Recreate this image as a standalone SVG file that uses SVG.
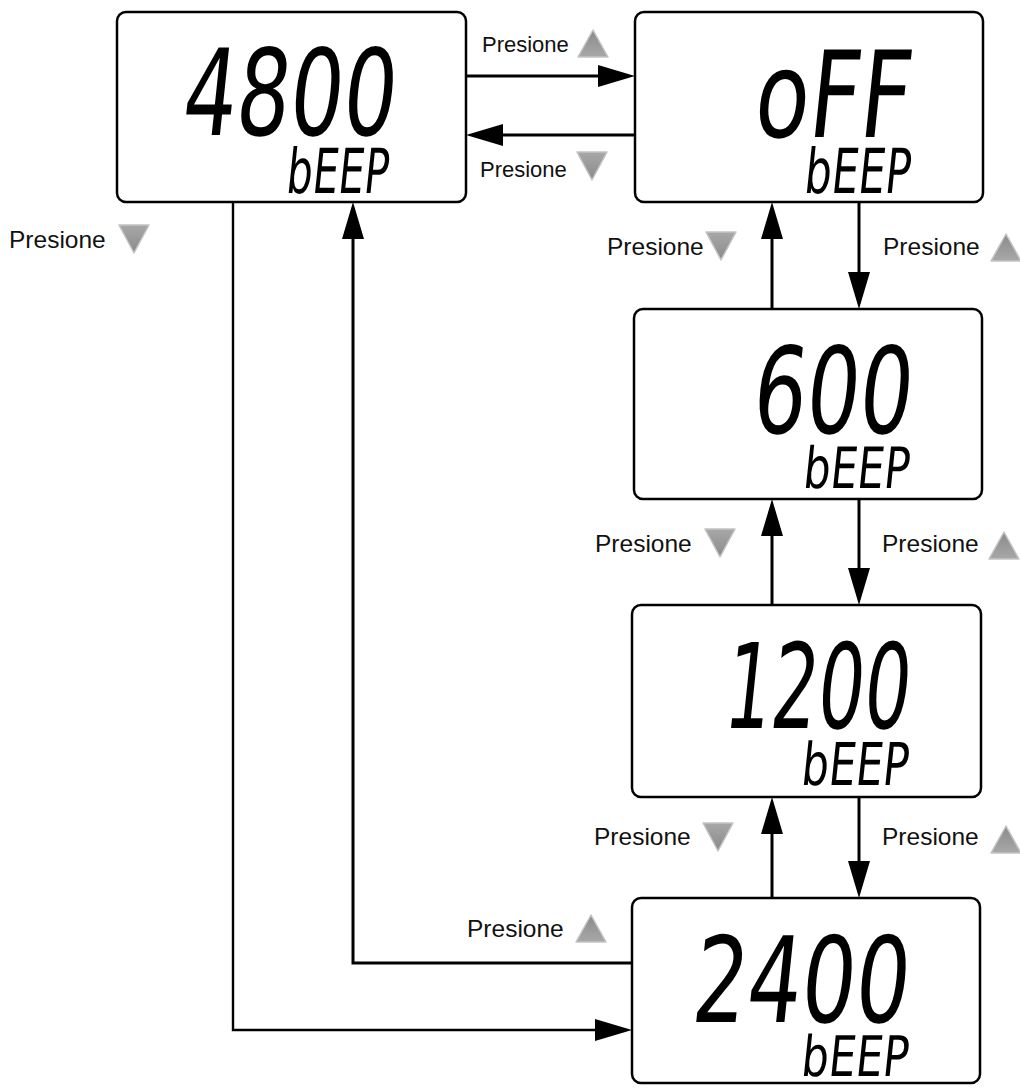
<svg xmlns="http://www.w3.org/2000/svg" xmlns:xlink="http://www.w3.org/1999/xlink" width="1020" height="1088" viewBox="0 0 1020 1088">
<style>
.box{fill:#fff;stroke:#000;stroke-width:2.5}
.lcd{font-family:"DejaVu Sans Condensed","Liberation Sans Narrow","Liberation Sans",sans-serif;fill:#000}
.big{font-size:120px}
.small{font-size:62px}
.lbl{font-family:"Liberation Sans",Arial,sans-serif;font-size:24.5px;fill:#111}
.lbls{font-size:22px}
.con{fill:none;stroke:#000;stroke-width:3}
</style>
<defs>
<marker id="ah" markerUnits="userSpaceOnUse" markerWidth="38" markerHeight="22" refX="27" refY="11" orient="auto">
<path d="M0,0 L37,11 L0,22 Z" fill="#000"/>
</marker>
<linearGradient id="gu" x1="0" y1="0" x2="0" y2="1"><stop offset="0" stop-color="#8a8a8a"/><stop offset="1" stop-color="#a8a8a8"/></linearGradient>
<linearGradient id="gd" x1="0" y1="0" x2="0" y2="1"><stop offset="0" stop-color="#a8a8a8"/><stop offset="1" stop-color="#8a8a8a"/></linearGradient>
<path id="tu" d="M16,1 L31,28 L1,28 Z" fill="url(#gu)" stroke="#c4c4c4" stroke-width="1.5" stroke-linejoin="round"/>
<path id="td" d="M1,0 L31,0 L16,28 Z" fill="url(#gd)" stroke="#c4c4c4" stroke-width="1.5" stroke-linejoin="round"/>
</defs>

<g id="connectors">
<line class="con" x1="466" y1="76" x2="625" y2="76" marker-end="url(#ah)"/>
<line class="con" x1="635" y1="135" x2="476" y2="135" marker-end="url(#ah)"/>
<line class="con" x1="772" y1="309" x2="772" y2="212" marker-end="url(#ah)"/>
<line class="con" x1="859" y1="202" x2="859" y2="299" marker-end="url(#ah)"/>
<line class="con" x1="772" y1="605" x2="772" y2="509" marker-end="url(#ah)"/>
<line class="con" x1="859" y1="499" x2="859" y2="595" marker-end="url(#ah)"/>
<line class="con" x1="772" y1="898" x2="772" y2="807" marker-end="url(#ah)"/>
<line class="con" x1="859" y1="797" x2="859" y2="888" marker-end="url(#ah)"/>
<path class="con" style="stroke-width:2.4" d="M233,202 V1030 H622" marker-end="url(#ah)"/>
<path class="con" d="M632,963 H353 V212" marker-end="url(#ah)"/>
</g>

<g id="node-4800">
<rect class="box" x="117" y="12" width="349" height="190" rx="9"/>
<text class="lcd big" transform="translate(180,135) skewX(-6)" textLength="213" lengthAdjust="spacingAndGlyphs">4800</text>
<text class="lcd small" transform="translate(285,193) skewX(-6)" textLength="102" lengthAdjust="spacingAndGlyphs">bEEP</text>
</g>
<g id="node-off">
<rect class="box" x="635" y="12" width="348" height="190" rx="9"/>
<text class="lcd big" transform="translate(752,137) skewX(-6)" textLength="156" lengthAdjust="spacingAndGlyphs">oFF</text>
<text class="lcd small" transform="translate(803,193) skewX(-6)" textLength="106" lengthAdjust="spacingAndGlyphs">bEEP</text>
</g>
<g id="node-600">
<rect class="box" x="634" y="309" width="348" height="190" rx="9"/>
<text class="lcd big" transform="translate(750,433) skewX(-6)" textLength="159" lengthAdjust="spacingAndGlyphs">600</text>
<text class="lcd small" transform="translate(802,488) skewX(-6)" textLength="106" lengthAdjust="spacingAndGlyphs" style="font-size:57px">bEEP</text>
</g>
<g id="node-1200">
<rect class="box" x="632" y="605" width="349" height="192" rx="9"/>
<text class="lcd big" transform="translate(722,728) skewX(-6)" textLength="185" lengthAdjust="spacingAndGlyphs" style="font-size:118px">1200</text>
<text class="lcd small" transform="translate(800,785) skewX(-6)" textLength="107" lengthAdjust="spacingAndGlyphs" style="font-size:59px">bEEP</text>
</g>
<g id="node-2400">
<rect class="box" x="632" y="898" width="348" height="185" rx="9"/>
<text class="lcd big" transform="translate(690,1022) skewX(-6)" textLength="216" lengthAdjust="spacingAndGlyphs" style="font-size:119px">2400</text>
<text class="lcd small" transform="translate(800,1076) skewX(-6)" textLength="107" lengthAdjust="spacingAndGlyphs" style="font-size:56px">bEEP</text>
</g>

<g id="labels">
<text class="lbl lbls" x="482" y="52">Presione</text><use xlink:href="#tu" x="577" y="29"/>
<text class="lbl lbls" x="480" y="177">Presione</text><use xlink:href="#td" x="576" y="152"/>
<text class="lbl" x="9" y="248">Presione</text><use xlink:href="#td" x="118" y="225"/>
<text class="lbl" x="607" y="255">Presione</text><use xlink:href="#td" x="705" y="232"/>
<text class="lbl" x="883" y="255">Presione</text><use xlink:href="#tu" x="990" y="233"/>
<text class="lbl" x="595" y="552">Presione</text><use xlink:href="#td" x="704" y="529"/>
<text class="lbl" x="882" y="552">Presione</text><use xlink:href="#tu" x="988" y="531"/>
<text class="lbl" x="594" y="845">Presione</text><use xlink:href="#td" x="702" y="823"/>
<text class="lbl" x="882" y="845">Presione</text><use xlink:href="#tu" x="990" y="825"/>
<text class="lbl" x="467" y="937">Presione</text><use xlink:href="#tu" x="575" y="914"/>
</g>
</svg>
